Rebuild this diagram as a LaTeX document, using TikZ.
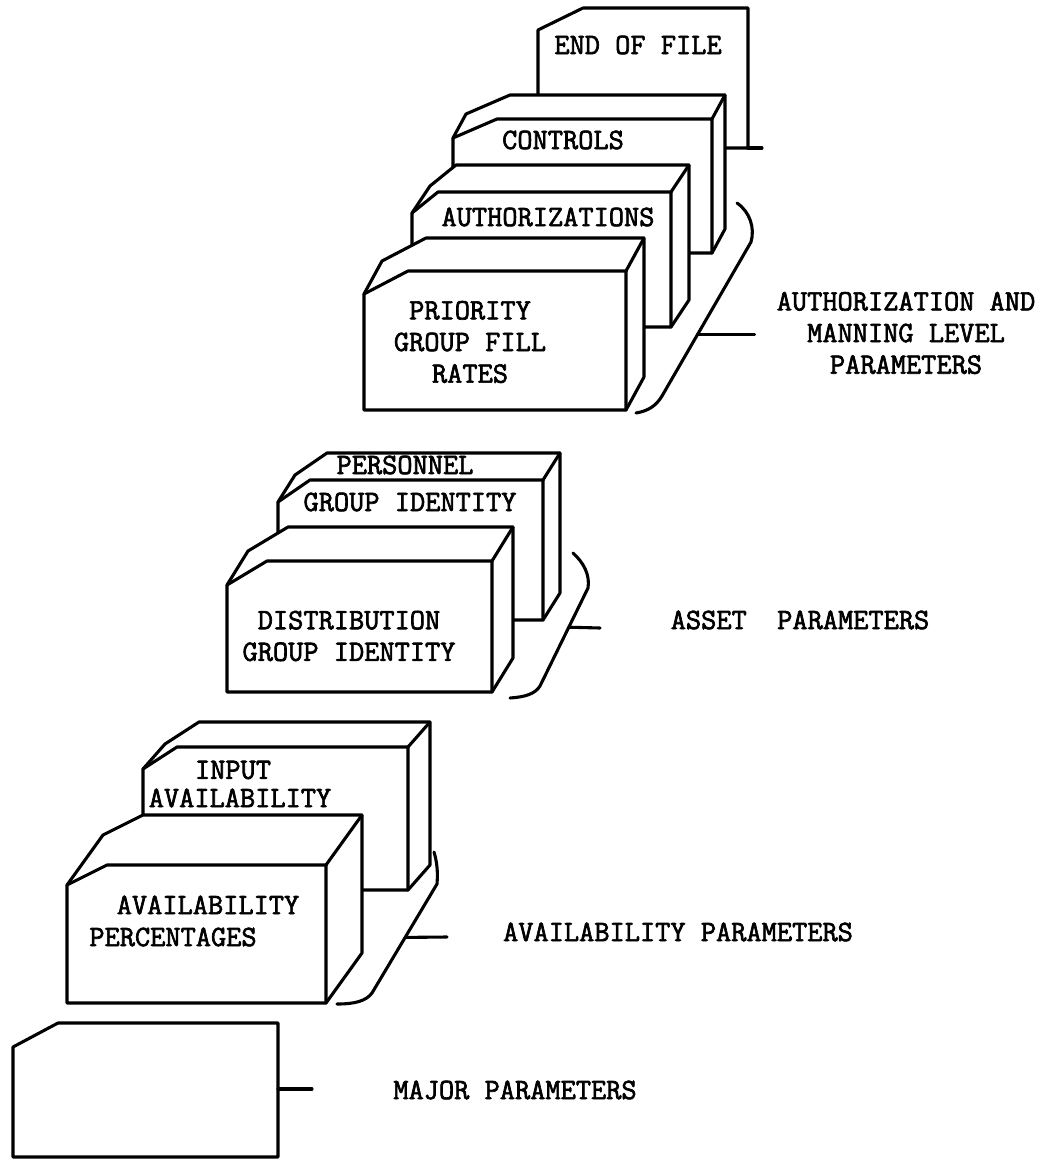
\documentclass[tikz,border=0pt]{standalone}
\usepackage{fontspec}
\usepackage{tikz}
\usetikzlibrary{calc}
\newfontfamily\typer{Latin Modern Mono}[FakeBold=2.2]

% deck of cards: name, left, top, right, bottom, corner cut x/y, depth x/y
\newcommand{\deck}[9]{%
  \coordinate (#1-a) at (#2,{#3+#7});
  \coordinate (#1-b) at ({#2+#6},#3);
  \coordinate (#1-c) at (#4,#3);
  \coordinate (#1-d) at (#4,#5);
  \coordinate (#1-e) at (#2,#5);
  \filldraw[card] (#1-e) -- (#1-a) -- ++(#8,#9) -- ($(#1-b)+(#8,#9)$)
    -- ($(#1-c)+(#8,#9)$) -- ($(#1-d)+(#8,#9)$) -- (#1-d) -- cycle;
  \draw[edge] (#1-a) -- (#1-b) -- (#1-c) -- (#1-d);
  \draw[edge] (#1-c) -- ++(#8,#9);
}
% single card: name, left, top, right, bottom, corner cut x/y
\newcommand{\flatcard}[7]{%
  \coordinate (#1-a) at (#2,{#3+#7});
  \coordinate (#1-b) at ({#2+#6},#3);
  \coordinate (#1-c) at (#4,#3);
  \coordinate (#1-d) at (#4,#5);
  \coordinate (#1-e) at (#2,#5);
  \filldraw[card] (#1-e) -- (#1-a) -- (#1-b) -- (#1-c) -- (#1-d) -- cycle;
}

\begin{document}
\begin{tikzpicture}[x=0.025cm, y=-0.025cm,
  edge/.style={line width=2.2pt, line join=round, line cap=round},
  card/.style={edge, fill=white},
  cardtext/.style={font=\typer\fontsize{21}{22.5}\selectfont,
    align=center, inner sep=0pt},
  paramtext/.style={cardtext}
]
\fill[white] (0,0) rectangle (1061,1161);
\useasboundingbox (0,0) rectangle (1061,1161);

% cards, back to front
\flatcard{eof}{538}{8}{748}{148}{45}{22}
\draw[edge] (eof-d) -- ++(14,0);
\foreach \n/\xl/\yt/\xr/\yb/\cx/\cy/\dx/\dy in {
  controls/453/119/712/253/44/19/13/-24,
  auths/412/192/671/327/26/21/18/-27,
  priority/364/271/626/410/44/23/18/-33,
  personnel/278/480/543/620/32/22/17/-27,
  distrib/227/561/492/692/40/24/21/-34,
  input/143/747/408/890/34/22/22/-25,
  avail/67/865/326/1003/40/20/36/-50}
  \deck{\n}{\xl}{\yt}{\xr}{\yb}{\cx}{\cy}{\dx}{\dy};
\flatcard{major}{13}{1023}{278}{1157}{45}{24}

% brackets
\coordinate (ab-top) at (751,242);
\coordinate (ab-bot) at (662,396);
\draw[edge] (737,203) .. controls (750,212) and (755,228) .. (ab-top)
  -- (ab-bot) .. controls (656,406) and (648,411) .. (636,413);
\coordinate (sb-top) at (588,588);
\coordinate (sb-bot) at (540,686);
\draw[edge] (573,553) .. controls (584,563) and (590,575) .. (sb-top)
  -- (sb-bot) .. controls (535,694) and (525,697) .. (510,698);
\coordinate (vb-top) at (437,884);
\coordinate (vb-bot) at (372,993);
\draw[edge] (434,852) .. controls (437,862) and (438,872) .. (vb-top)
  -- (vb-bot) .. controls (366,1001) and (355,1004) .. (337,1004);

% card texts
\node[cardtext] (t-eof) at (638,45) {END OF FILE};
\node[cardtext] (t-controls) at (563,140) {CONTROLS};
\node[cardtext] (t-auths) at (548,217) {AUTHORIZATIONS};
\node[cardtext] (t-priority) at (470,342) {PRIORITY\\GROUP FILL\\RATES};
\node[cardtext] (t-personnel) at (405,465) {PERSONNEL};
\node[cardtext] (t-pgroup) at (410,502) {GROUP IDENTITY};
\node[cardtext] (t-distrib) at (349,636) {DISTRIBUTION\\GROUP IDENTITY};
\node[cardtext] (t-input) at (233,770) {INPUT};
\node[cardtext] (t-inavail) at (240,798) {AVAILABILITY};
\node[cardtext] (t-avail) at (208,905) {AVAILABILITY};
\node[cardtext] (t-percent) at (173,937) {PERCENTAGES};

% parameter groups
\node[paramtext] (p-auth) at (906,333) {AUTHORIZATION AND\\MANNING LEVEL\\PARAMETERS};
\node[paramtext] (p-asset) at (800,620) {ASSET\ \ PARAMETERS};
\node[paramtext] (p-avail) at (678,932) {AVAILABILITY PARAMETERS};
\node[paramtext] (p-major) at (515,1090) {MAJOR PARAMETERS};
\draw[edge] ($(ab-top)!0.6!(ab-bot)$) -- ++(57,0);
\draw[edge] ($(sb-top)!0.4!(sb-bot)$) -- (600,628);
\draw[edge] ($(vb-top)!0.49!(vb-bot)$) -- (447,937);
\draw[edge] (major-d |- 0,1089) -- (312,1089);
\end{tikzpicture}
\end{document}
